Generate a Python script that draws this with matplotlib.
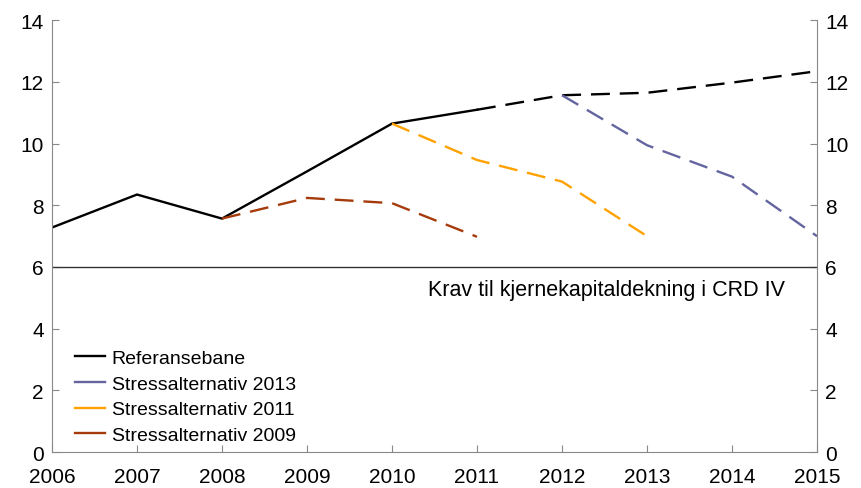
import matplotlib.pyplot as plt
from matplotlib.lines import Line2D

plt.rcParams['font.family'] = ['Liberation Sans', 'DejaVu Sans']

years = [2006, 2007, 2008, 2009, 2010, 2011, 2012, 2013, 2014, 2015]
referanse = [7.28, 8.35, 7.57, 9.1, 10.65, 11.1, 11.57, 11.65, 11.98, 12.35]
solid_until = 2011

stress_2013_years = [2012, 2013, 2014, 2015]
stress_2013 = [11.57, 9.95, 8.93, 7.0]
stress_2011_years = [2010, 2011, 2012, 2013]
stress_2011 = [10.65, 9.47, 8.77, 7.0]
stress_2009_years = [2008, 2009, 2010, 2011]
stress_2009 = [7.57, 8.24, 8.07, 6.98]

krav = 6
labels = ['Referansebane', 'Stressalternativ 2013', 'Stressalternativ 2011', 'Stressalternativ 2009']
colors = ['black', '#6464A0', '#FFA200', '#A53A0A']

fig = plt.figure(figsize=(8.62, 4.89), dpi=100)
ax = fig.add_axes([0.0603, 0.0736, 0.8875, 0.8828])

lw = 1.7
dash = (8, 4.2)
i = years.index(solid_until)
ax.plot(years[:i + 1], referanse[:i + 1], color=colors[0], lw=lw, solid_joinstyle='miter')
ax.plot(years[i:], referanse[i:], color=colors[0], lw=lw, dashes=dash)
ax.plot(stress_2013_years, stress_2013, color=colors[1], lw=lw, dashes=dash)
ax.plot(stress_2011_years, stress_2011, color=colors[2], lw=lw, dashes=dash)
ax.plot(stress_2009_years, stress_2009, color=colors[3], lw=lw, dashes=dash)

ax.axhline(krav, color='#333333', lw=1)
ax.text(2014.62, 5.28, 'Krav til kjernekapitaldekning i CRD IV', ha='right', va='center', fontsize=15.5)

ax.set_xlim(2006, 2015)
ax.set_ylim(0, 14)
ax.set_xticks(years)
ax.set_yticks(range(0, 15, 2))
ax.tick_params(axis='both', direction='in', length=5, color='#888888', labelsize=15)
ax.tick_params(axis='x', pad=11)
ax.tick_params(axis='y', pad=6, left=True, right=True, labelleft=True, labelright=True)
for s in ax.spines.values():
    s.set_color('#888888')
ax.spines['top'].set_visible(False)

handles = [Line2D([], [], color=c, lw=lw) for c in colors]
ax.legend(handles, labels, loc='upper left', bbox_to_anchor=(0.03, 0.238), frameon=False,
          borderpad=0, borderaxespad=0, fontsize=14, handlelength=1.55,
          handletextpad=0.35, labelspacing=0.42)

fig.savefig('out.png', dpi=100)
